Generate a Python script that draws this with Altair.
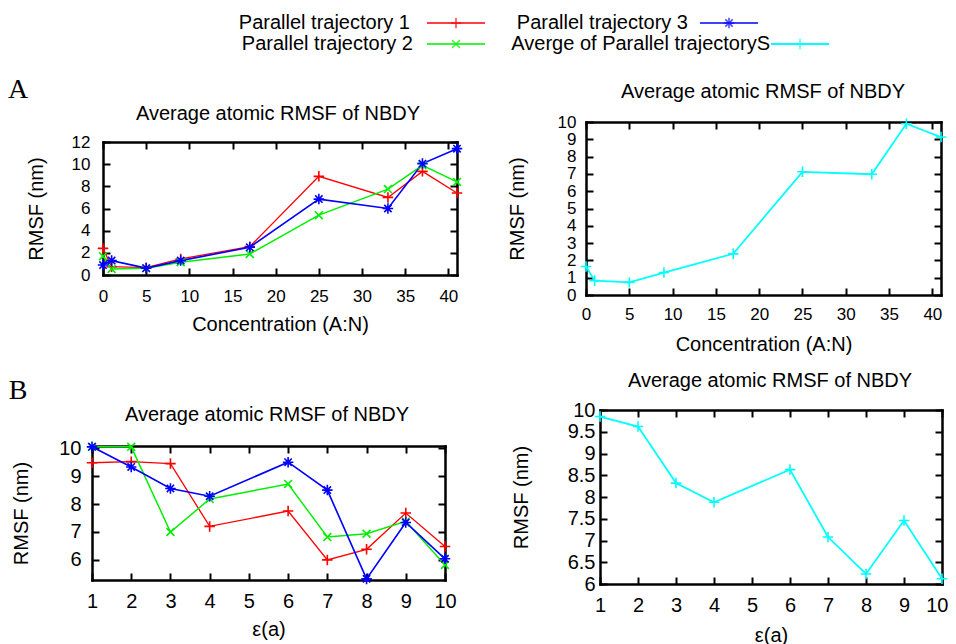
import altair as alt
import pandas as pd

# ---------------- data ----------------
series_names = ["Parallel trajectory 1", "Parallel trajectory 2",
                "Parallel trajectory 3", "Averge of Parallel trajectoryS"]
series_colors = ["#ff0000", "#00ee00", "#0000ff", "#00ffff"]

# Panel A: concentration (A:N)
conc = [0, 1, 5, 9, 17, 25, 33, 37, 41]
conc_traj1 = [2.4, 0.75, 0.66, 1.45, 2.56, 8.9, 7.0, 9.35, 7.4]
conc_traj2 = [1.7, 0.55, 0.6, 1.15, 1.9, 5.4, 7.75, 9.9, 8.4]
conc_traj3 = [0.9, 1.3, 0.62, 1.3, 2.5, 6.85, 6.0, 10.05, 11.4]
conc_avg = [1.65, 0.83, 0.73, 1.3, 2.38, 7.12, 6.98, 9.9, 9.13]

# Panel B: epsilon(a)
eps = [1, 2, 3, 4, 6, 7, 8, 9, 10]
eps_traj1 = [9.48, 9.52, 9.45, 7.2, 7.75, 6.0, 6.38, 7.68, 6.48]
eps_traj2 = [10.05, 10.05, 7.0, 8.18, 8.72, 6.82, 6.94, 7.38, 5.82]
eps_traj3 = [10.05, 9.33, 8.56, 8.28, 9.5, 8.5, 5.32, 7.34, 6.04]
eps_avg = [9.85, 9.62, 8.32, 7.88, 8.63, 7.08, 6.23, 7.46, 6.12]

conc_ticks = [0, 5, 10, 15, 20, 25, 30, 35, 40]
a_left_yticks = [0, 2, 4, 6, 8, 10, 12]
a_right_yticks = [0, 1, 2, 3, 4, 5, 6, 7, 8, 9, 10]
eps_ticks = [1, 2, 3, 4, 5, 6, 7, 8, 9, 10]
b_left_yticks = [6, 7, 8, 9, 10]
b_right_yticks = [6, 6.5, 7, 7.5, 8, 8.5, 9, 9.5, 10]

panel_title = "Average atomic RMSF of NBDY"

# ---------------- styling ----------------
W, H = 940, 636
OFF = 8
FONT = "Liberation Sans"
PLUS = "M-1,0L1,0M0,-1L0,1"
CROSS = "M-0.75,-0.75L0.75,0.75M-0.75,0.75L0.75,-0.75"
STAR = PLUS + "M-0.7,-0.7L0.7,0.7M-0.7,0.7L0.7,-0.7"
series_shapes = [PLUS, CROSS, STAR, PLUS]
series_widths = [1.3, 1.8, 1.5, 2.0]

color_enc = alt.Color("series:N", scale=alt.Scale(domain=series_names, range=series_colors), legend=None)
shape_enc = alt.Shape("series:N", scale=alt.Scale(domain=series_names, range=series_shapes), legend=None)
width_enc = alt.StrokeWidth("series:N", scale=alt.Scale(domain=series_names, range=series_widths), legend=None)


def long_df(x, cols):
    rows = []
    for name, ys in cols:
        for xv, yv in zip(x, ys):
            rows.append({"x": xv, "y": yv, "series": name})
    return pd.DataFrame(rows)


def panel(df, box, xdom, ydom, xvals, yvals, xtitle, fs,
          lpx, lpy, tpx, tpy, last_right=False):
    L, R, T, B = [v - OFF for v in box]
    xs = alt.Scale(domain=xdom, range=[L, R], nice=False, zero=False)
    ys = alt.Scale(domain=ydom, range=[B, T], nice=False, zero=False)
    base = alt.Chart(df)
    border = dict(domainColor="black", domainWidth=2.5, domainCap="square")
    tick = dict(ticks=True, tickColor="black", tickWidth=2, tickSize=7, labels=False,
                title=None, grid=False)

    extra = {}
    if last_right:
        test = "datum.value == %s" % xvals[-1]
        extra = dict(
            labelAlign={"condition": {"test": test, "value": "right"}, "value": "center"},
            labelOffset={"condition": {"test": test, "value": 6}, "value": 0},
        )

    ax_x = alt.Axis(orient="bottom", offset=B - H, values=xvals, ticks=False, domain=True, grid=False,
                    labelFont=FONT, labelFontSize=fs, labelColor="black", labelPadding=lpx,
                    labelFlush=False, labelOverlap=False, format=".1~f",
                    title=xtitle, titleFont=FONT, titleFontSize=20, titleFontWeight="normal",
                    titleColor="black", titlePadding=tpx, **border, **extra)
    ax_y = alt.Axis(orient="left", offset=-L, values=yvals, ticks=False, domain=True, grid=False,
                    labelFont=FONT, labelFontSize=fs, labelColor="black", labelPadding=lpy,
                    labelFlush=False, labelOverlap=False, format=".1~f",
                    title="RMSF (nm)", titleFont=FONT, titleFontSize=20, titleFontWeight="normal",
                    titleColor="black", titlePadding=tpy, **border)

    lines = base.mark_line().encode(
        x=alt.X("x:Q", scale=xs, axis=ax_x),
        y=alt.Y("y:Q", scale=ys, axis=ax_y),
        color=color_enc, strokeWidth=width_enc,
    )
    pts = base.mark_point(filled=False, size=110, strokeWidth=1.6, opacity=1).encode(
        x=alt.X("x:Q", scale=xs, axis=None),
        y=alt.Y("y:Q", scale=ys, axis=None),
        color=color_enc, shape=shape_enc,
    )
    # inward ticks at bottom & left edges
    t1 = base.mark_point(opacity=0).encode(
        x=alt.X("x:Q", scale=xs, axis=alt.Axis(orient="top", offset=-B, values=xvals, domain=False, **tick)),
        y=alt.Y("y:Q", scale=ys, axis=alt.Axis(orient="right", offset=L - W, values=yvals, domain=False, **tick)),
    )
    # top & right border with inward ticks
    t2 = base.mark_point(opacity=0).encode(
        x=alt.X("x:Q", scale=xs, axis=alt.Axis(orient="bottom", offset=T - H, values=xvals, domain=True,
                                              **border, **tick)),
        y=alt.Y("y:Q", scale=ys, axis=alt.Axis(orient="left", offset=-R, values=yvals, domain=True,
                                              **border, **tick)),
    )
    return alt.layer(t1, t2, lines, pts).resolve_axis(x="independent", y="independent")


dfA = long_df(conc, [(series_names[0], conc_traj1), (series_names[1], conc_traj2),
                     (series_names[2], conc_traj3)])
dfA_avg = long_df(conc, [(series_names[3], conc_avg)])
dfB = long_df(eps, [(series_names[0], eps_traj1), (series_names[1], eps_traj2),
                    (series_names[2], eps_traj3)])
dfB_avg = long_df(eps, [(series_names[3], eps_avg)])

pA1 = panel(dfA, (103, 457, 142, 275), [0, 41], [0, 12], conc_ticks, a_left_yticks,
            "Concentration (A:N)", 17, 13, 13, 10, 25)
pA2 = panel(dfA_avg, (586, 941, 122, 295), [0, 41], [0, 10], conc_ticks, a_right_yticks,
            "Concentration (A:N)", 17, 11, 10, 12, 30)
pB1 = panel(dfB, (92, 445, 446, 580), [1, 10], [5.28, 10.08], eps_ticks, b_left_yticks,
            "\u03b5(a)", 20, 11, 11, 8, 27)
pB2 = panel(dfB_avg, (600, 942, 410, 584), [1, 10], [6, 10], eps_ticks, b_right_yticks,
            "\u03b5(a)", 20, 11, 5, 10, 36, last_right=True)

# ---------------- decorations (titles, letters, key) ----------------
def text_at(txt, x, y, size=20, font=FONT, align="center"):
    return alt.Chart(pd.DataFrame({"t": [txt]})).mark_text(
        font=font, fontSize=size, align=align, baseline="middle", color="black"
    ).encode(text="t:N", x=alt.value(x - OFF), y=alt.value(y - OFF))


decor = [
    text_at(panel_title, 278, 114),
    text_at(panel_title, 763, 92),
    text_at(panel_title, 267, 415),
    text_at(panel_title, 770, 381),
    text_at("A", 18, 90, size=28, font="Liberation Serif"),
    text_at("B", 18, 391, size=28, font="Liberation Serif"),
]

key_rows = [  # (label end x, line start x, y)
    (410, 427, 23),
    (413, 427, 44),
    (688, 700, 23),
    (770, 771, 44),
]
for name, (tx, lx, ky) in zip(series_names, key_rows):
    d = pd.DataFrame({"series": [name]})
    decor.append(text_at(name, tx, ky, align="right"))
    decor.append(alt.Chart(d).mark_rule().encode(
        x=alt.value(lx - OFF), x2=alt.value(lx + 58 - OFF), y=alt.value(ky - OFF),
        color=color_enc, strokeWidth=width_enc))
    decor.append(alt.Chart(d).mark_point(filled=False, size=110, strokeWidth=1.6).encode(
        x=alt.value(lx + 29 - OFF), y=alt.value(ky - OFF), color=color_enc, shape=shape_enc))

chart = alt.layer(pA1, pA2, pB1, pB2, *decor).resolve_scale(
    x="independent", y="independent"
).properties(
    width=W, height=H, padding=0,
    autosize=alt.AutoSizeParams(type="none"),
).configure_view(strokeWidth=0)

chart.save("out.html", embed_options={"renderer": "svg", "actions": False})
